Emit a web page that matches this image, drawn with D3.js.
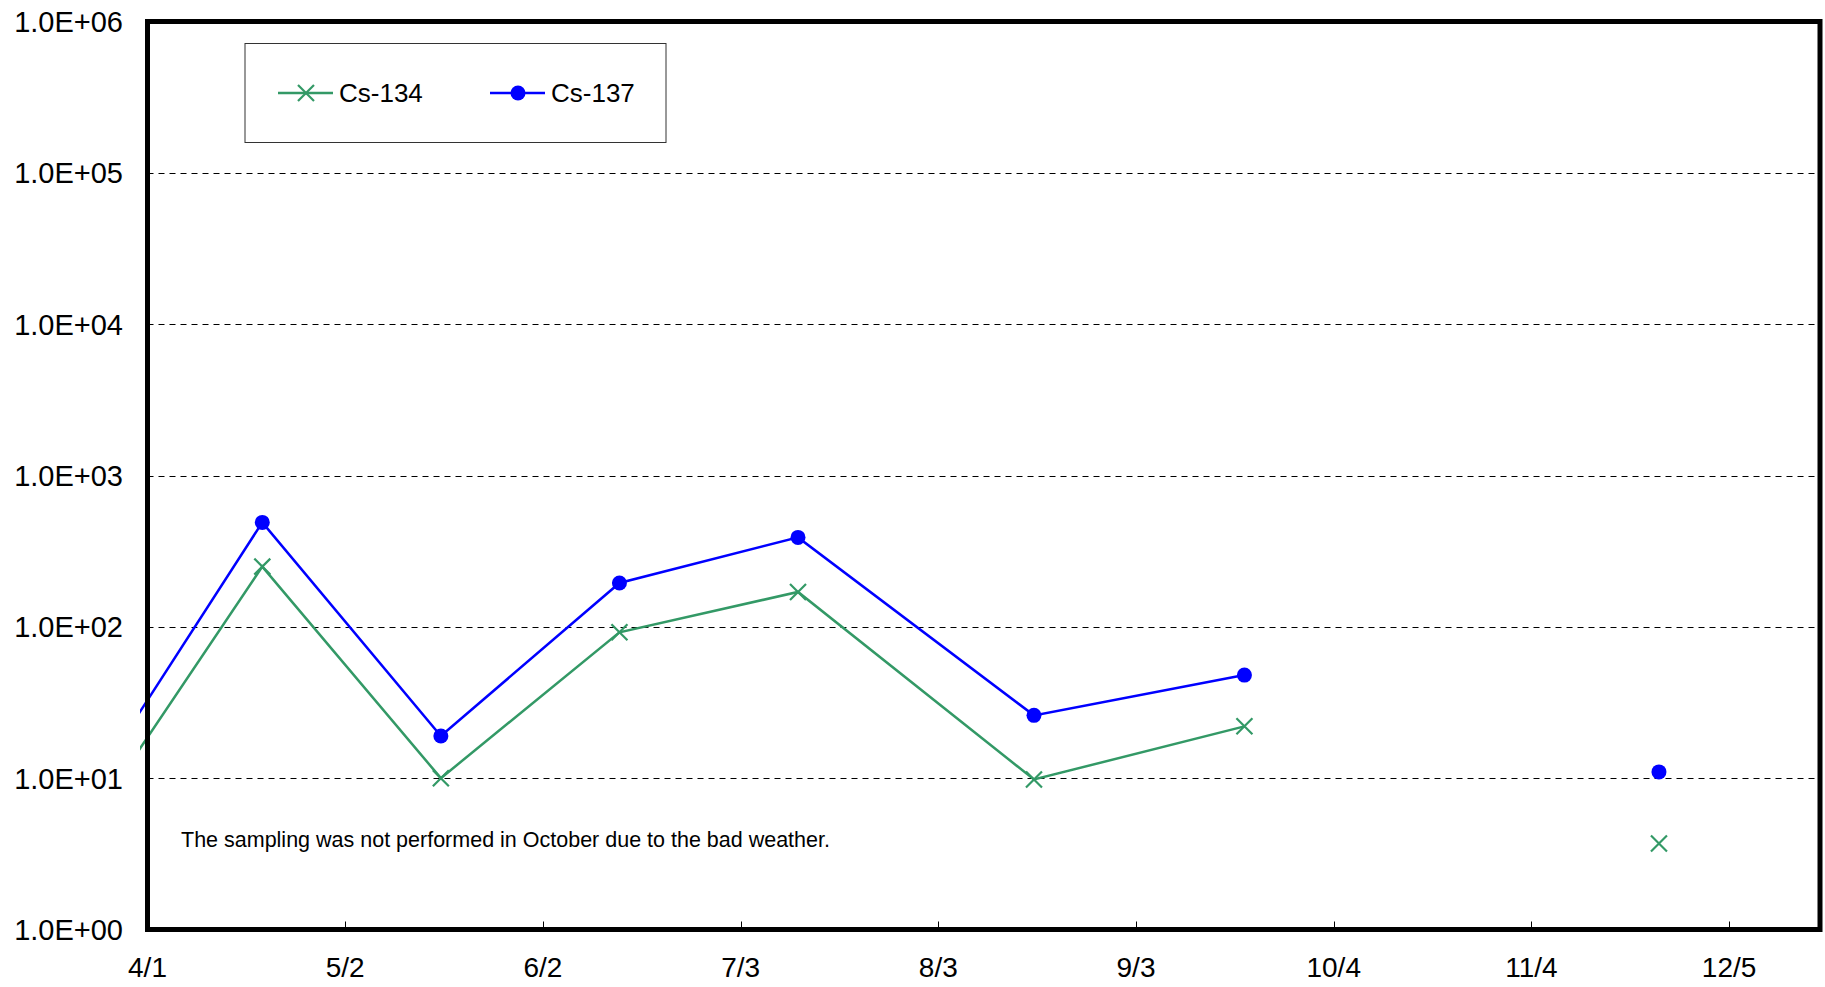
<!DOCTYPE html>
<html>
<head>
<meta charset="utf-8">
<script src="https://cdn.jsdelivr.net/npm/d3@7"></script>
<style>
  body { margin: 0; background: white; }
  text { font-family: "Liberation Sans", Arial, sans-serif; }
</style>
</head>
<body>
<script>
// sampling dates (2012), October skipped because of the weather
var dates = ["3/22", "4/19", "5/17", "6/14", "7/12", "8/18", "9/20", "10/20", "11/24"];
var cs134 = [4.4, 250, 10, 92, 170, 9.8, 22, null, 3.7];
var cs137 = [7.3, 490, 19, 195, 390, 26, 48, null, 11];
var xTicks = ["4/1", "5/2", "6/2", "7/3", "8/3", "9/3", "10/4", "11/4", "12/5"];
var yTicks = [1, 10, 100, 1000, 10000, 100000, 1000000];
var note = "The sampling was not performed in October due to the bad weather.";

width = 1825;
height = 987;
margin = { top: 21.5, right: 5, bottom: 57.5, left: 147.5 }

var parse = function(s){
    var p = s.split("/");
    return new Date(2012, +p[0]-1, +p[1]);
}

var data = dates.map(function(d,i){
    return { date: parse(d), cs134: cs134[i], cs137: cs137[i] };
});

x = d3.scaleTime()
    .domain([parse("4/1"), new Date(2012, 11, 19, 6)])
    .range([margin.left, width - margin.right])

y = d3.scaleLog()
    .domain([1, 1000000])
    .range([height - margin.bottom, margin.top])

const svg = d3.select('body')
    .append("svg")
    .attr('width', width)
    .attr('height', height)

// clip a little outside the frame, like the original
svg.append('clipPath')
    .attr('id','clip')
    .append('rect')
    .attr('x', margin.left - 7.5)
    .attr('y', margin.top)
    .attr('width', width - margin.right - margin.left + 7.5)
    .attr('height', height - margin.bottom - margin.top)

// grid
svg.append('g')
    .selectAll('line')
    .data(yTicks.slice(1, -1))
    .join('line')
    .attr('x1', margin.left)
    .attr('x2', width - margin.right)
    .attr('y1', d => Math.round(y(d)) + 0.5)
    .attr('y2', d => Math.round(y(d)) + 0.5)
    .attr('stroke', '#000')
    .attr('stroke-width', 1)
    .attr('stroke-dasharray', '6,5')

// y labels
svg.append('g')
    .selectAll('text')
    .data(yTicks)
    .join('text')
    .attr('x', 123)
    .attr('y', d => y(d))
    .attr('dy', '0.36em')
    .attr('text-anchor', 'end')
    .style('font-size', '29px')
    .text(d => d.toExponential(1).replace('e', 'E').replace(/E([+-])(\d)$/, 'E$10$2'))

// x ticks + labels
var xg = svg.append('g')
xg.selectAll('line')
    .data(xTicks.slice(1))
    .join('line')
    .attr('x1', d => Math.round(x(parse(d))) + 0.5)
    .attr('x2', d => Math.round(x(parse(d))) + 0.5)
    .attr('y1', y(1))
    .attr('y2', y(1) - 8)
    .attr('stroke', '#000')
    .attr('stroke-width', 1)
xg.selectAll('text')
    .data(xTicks)
    .join('text')
    .attr('x', d => x(parse(d)))
    .attr('y', 977)
    .attr('text-anchor', 'middle')
    .style('font-size', '28px')
    .text(d => d)

var series = [
    { key: "Cs-134", field: "cs134", color: "#339966", marker: "x" },
    { key: "Cs-137", field: "cs137", color: "#0000ff", marker: "dot" }
];

var plot = svg.append('g').attr('clip-path', 'url(#clip)')

series.forEach(function(s){
    var line = d3.line()
        .defined(d => d[s.field] != null)
        .x(d => x(d.date))
        .y(d => y(d[s.field]));
    plot.append('path')
        .datum(data)
        .attr('fill', 'none')
        .attr('stroke', s.color)
        .attr('stroke-width', 2.5)
        .attr('d', line);
});

var drawMarker = function(g, s, cx, cy){
    if (s.marker == "dot") {
        g.append('circle')
            .attr('cx', cx).attr('cy', cy).attr('r', 7.5)
            .attr('fill', s.color);
    } else {
        g.append('path')
            .attr('d', `M${cx-8},${cy-8}L${cx+8},${cy+8}M${cx-8},${cy+8}L${cx+8},${cy-8}`)
            .attr('stroke', s.color)
            .attr('stroke-width', 2.2)
            .attr('fill', 'none');
    }
}

series.forEach(function(s){
    data.filter(d => d[s.field] != null && d.date >= x.domain()[0])
        .forEach(d => drawMarker(plot, s, x(d.date), y(d[s.field])));
});

// frame
svg.append('rect')
    .attr('x', margin.left)
    .attr('y', margin.top)
    .attr('width', width - margin.right - margin.left)
    .attr('height', height - margin.bottom - margin.top)
    .attr('fill', 'none')
    .attr('stroke', '#000')
    .attr('stroke-width', 5)

// LEGEND
var legend = svg.append('g').attr('class', 'legend')
legend.append('rect')
    .attr('x', 245).attr('y', 43.5)
    .attr('width', 421).attr('height', 99)
    .attr('fill', 'white')
    .attr('stroke', '#333')
    .attr('stroke-width', 1)
var lx = [278, 490];
series.forEach(function(s, i){
    legend.append('line')
        .attr('x1', lx[i]).attr('x2', lx[i] + 55)
        .attr('y1', 93).attr('y2', 93)
        .attr('stroke', s.color)
        .attr('stroke-width', 2.5);
    drawMarker(legend, s, lx[i] + 28, 93);
    legend.append('text')
        .attr('x', lx[i] + 61)
        .attr('y', 93)
        .attr('dy', '0.36em')
        .style('font-size', '26px')
        .text(s.key);
});

// note
svg.append('text')
    .attr('x', 181)
    .attr('y', 847)
    .style('font-size', '21.5px')
    .text(note)
</script>
</body>
</html>
